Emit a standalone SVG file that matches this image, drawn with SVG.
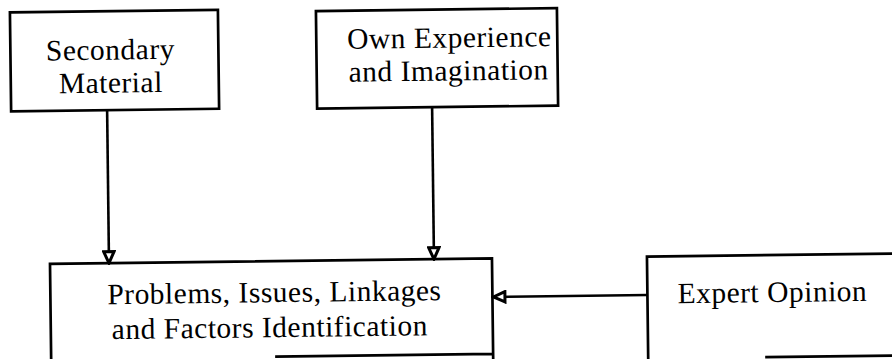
<svg xmlns="http://www.w3.org/2000/svg" width="892" height="359" viewBox="0 0 892 359">
  <style>
    .box { fill: none; stroke: #000; stroke-width: 2.7; stroke-linejoin: miter; }
    .label { font-family: "Liberation Serif", "Times New Roman", serif; font-size: 29.5px; letter-spacing: 0.5px; fill: #000; text-anchor: middle; }
    .edge { fill: none; stroke: #000; stroke-width: 2.6; }
  </style>
  <defs>
    <marker id="tri" viewBox="0 0 16 14" refX="14" refY="7" markerWidth="16" markerHeight="14" markerUnits="userSpaceOnUse" orient="auto">
      <path d="M2.5,1.8 L14,7 L2.5,12.2 Z" fill="#fff" stroke="#000" stroke-width="3" stroke-linejoin="miter"/>
    </marker>
  </defs>
  <rect width="892" height="359" fill="#fff"/>
  <!-- whole sheet sits at a slight tilt -->
  <g transform="rotate(-0.7 446 180)">
    <g id="secondary-material">
      <rect class="box" x="12" y="7" width="208" height="99"/>
      <text class="label" x="112" y="55.5">Secondary</text>
      <text class="label" x="112" y="88.5">Material</text>
    </g>
    <g id="own-experience">
      <rect class="box" x="318" y="9.5" width="241" height="97.5"/>
      <text class="label" x="451" y="47.5">Own Experience</text>
      <text class="label" x="450" y="80.5">and Imagination</text>
    </g>
    <g id="problems-identification">
      <path class="box" d="M49,362 L49,259 L491,259 L491,362 M273,354.5 L491,354.5"/>
      <text class="label" x="273" y="300">Problems, Issues, Linkages</text>
      <text class="label" x="268" y="335">and Factors Identification</text>
    </g>
    <g id="expert-opinion">
      <path class="box" d="M646,365 L646,259 L900,259 M763,361 L900,361"/>
      <text class="label" x="771" y="306">Expert Opinion</text>
    </g>
    <g id="connectors">
      <line class="edge" x1="108" y1="106" x2="108" y2="259" marker-end="url(#tri)"/>
      <line class="edge" x1="433" y1="107" x2="433" y2="259" marker-end="url(#tri)"/>
      <line class="edge" x1="646" y1="297.5" x2="492" y2="297.5" marker-end="url(#tri)"/>
    </g>
  </g>
</svg>
